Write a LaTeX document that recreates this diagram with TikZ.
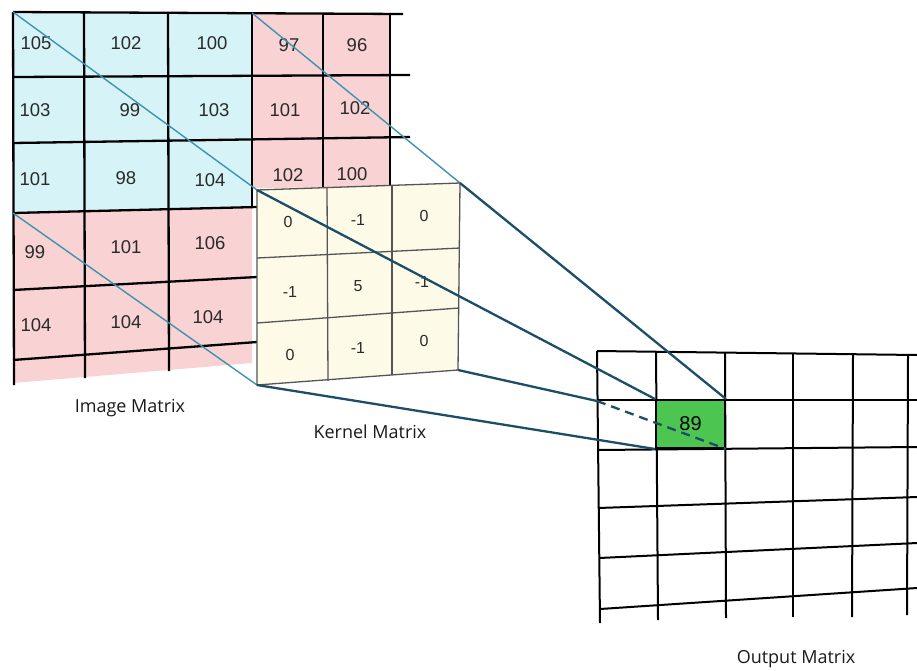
\documentclass[tikz,border=0pt]{standalone}
\usepackage{fontspec}
\setmainfont{Liberation Sans}
\newfontfamily\captionfont{Open Sans}
\usetikzlibrary{calc}
\definecolor{cellblue}{HTML}{D6F4F8}
\definecolor{cellpink}{HTML}{F9D2D4}
\definecolor{kernfill}{HTML}{FDFBE8}
\definecolor{hitgreen}{HTML}{4CC650}
\definecolor{tealdark}{HTML}{1D4E68}
\definecolor{teallight}{HTML}{3E93AE}
\definecolor{gridgray}{HTML}{555555}
\definecolor{numgray}{HTML}{2A2A2A}
\definecolor{ink}{HTML}{1A1A1A}
\tikzset{
  imgnum/.style   = {font=\fontsize{18.5}{20}\selectfont, text=numgray, inner sep=0pt},
  kernnum/.style  = {font=\fontsize{16}{18}\selectfont, text=numgray, inner sep=0pt},
  mlabel/.style   = {font=\captionfont\fontsize{18}{21}\selectfont, text=ink, inner sep=0pt},
  imggrid/.style  = {line width=2.3pt, draw=black},
  kerngrid/.style = {line width=1.3pt, draw=gridgray},
  outgrid/.style  = {line width=2pt, draw=black},
  hit/.style      = {rectangle, draw=black, line width=2pt, fill=hitgreen,
                     minimum width=69pt, minimum height=48pt, inner sep=0pt,
                     font=\fontsize{20}{22}\selectfont, text=black},
  raylight/.style = {line width=1.4pt, draw=teallight},
  raydark/.style  = {line width=2.3pt, draw=tealdark},
  raydash/.style  = {raydark, dash pattern=on 9pt off 6pt},
}

\begin{document}
\begin{tikzpicture}[x=1pt, y=-1pt]
\useasboundingbox (0,0) rectangle (917,670);

% ---- Image matrix: cell fills ----
\fill[cellblue] (13,12) -- (252,13) -- (252,208) -- (13,213) -- cycle;
\fill[cellpink] (252,13) -- (390,14) -- (390,187) -- (252,188) -- cycle;
\fill[cellpink] (13,213) -- (252,208) -- (252,363) -- (13,383) -- cycle;

% ---- Image matrix: grid ----
\draw[imggrid] (13,12) -- (403,14);
\draw[imggrid] (13,77) -- (410,75);
\draw[imggrid] (13,143) -- (410,137);
\draw[imggrid] (13,213) -- (257,207);
\draw[imggrid] (13,290) -- (257,277);
\draw[imggrid] (13,360) -- (257,342);
\draw[imggrid] (13,12) -- (14,385);
\draw[imggrid] (84,12) -- (85,378);
\draw[imggrid] (168,13) -- (169,371);
\draw[imggrid] (252,13) -- (252,208);
\draw[imggrid] (323,13) -- (323,188);
\draw[imggrid] (390,14) -- (390,188);

% ---- Image matrix: values ----
\node[imgnum] (i11) at (36,43)  {105};
\node[imgnum] (i12) at (126,43) {102};
\node[imgnum] (i13) at (212,43) {100};
\node[imgnum] (i14) at (289,45) {97};
\node[imgnum] (i15) at (357,45) {96};
\node[imgnum] (i21) at (35,110) {103};
\node[imgnum] (i22) at (130,110) {99};
\node[imgnum] (i23) at (214,110) {103};
\node[imgnum] (i24) at (285,110) {101};
\node[imgnum] (i25) at (355,108) {102};
\node[imgnum] (i31) at (35,179) {101};
\node[imgnum] (i32) at (126,178) {98};
\node[imgnum] (i33) at (210,180) {104};
\node[imgnum] (i34) at (288,175) {102};
\node[imgnum] (i35) at (352,174) {100};
\node[imgnum] (i41) at (35,252) {99};
\node[imgnum] (i42) at (126,247) {101};
\node[imgnum] (i43) at (210,243) {106};
\node[imgnum] (i51) at (36,325) {104};
\node[imgnum] (i52) at (126,322) {104};
\node[imgnum] (i53) at (208,317) {104};

% ---- Corners used by the projection rays ----
\coordinate (img-tl)  at (13,12);
\coordinate (img-mid) at (252,13);
\coordinate (img-low) at (13,213);
\coordinate (k-tl) at (257,190);
\coordinate (k-tr) at (460,183);
\coordinate (k-br) at (458,370);
\coordinate (k-bl) at (257,385);
\coordinate (o-edge) at (597,401);

% ---- Light rays from the image window to the kernel ----
\draw[raylight] (img-tl)  -- (k-tl);
\draw[raylight] (img-mid) -- (k-tr);
\draw[raylight] (img-low) -- (k-bl);

% ---- Kernel matrix ----
\filldraw[kernfill, kerngrid] (k-tl) -- (k-tr) -- (k-br) -- (k-bl) -- cycle;
\draw[kerngrid] (257,258) -- (460,248);
\draw[kerngrid] (257,323) -- (459,308);
\draw[kerngrid] (327,188) -- (328,381);
\draw[kerngrid] (392,186) -- (392,375);

\node[kernnum] (k11) at (288,222) {0};
\node[kernnum] (k12) at (358,220) {-1};
\node[kernnum] (k13) at (424,216) {0};
\node[kernnum] (k21) at (290,292) {-1};
\node[kernnum] (k22) at (358,286) {5};
\node[kernnum] (k23) at (422,282) {-1};
\node[kernnum] (k31) at (290,355) {0};
\node[kernnum] (k32) at (358,348) {-1};
\node[kernnum] (k33) at (424,341) {0};

% ---- Output matrix: grid ----
\draw[outgrid] (597,351) -- (917,355);
\draw[outgrid] (597,400) -- (917,400);
\draw[outgrid] (597,450) -- (917,447);
\draw[outgrid] (598,508) -- (917,497);
\draw[outgrid] (599,558) -- (917,543);
\draw[outgrid] (600,609) -- (917,588);
\draw[outgrid] (597,351) -- (600,623);
\draw[outgrid] (656,351) -- (658,620);
\draw[outgrid] (725,352) -- (726,618);
\draw[outgrid] (793,353) -- (793,617);
\draw[outgrid] (853,354) -- (852,617);
\draw[outgrid] (908,355) -- (907,615);

% ---- Result cell ----
\node[hit] (out) at (690.5,424) {89};

% ---- Dark rays from the kernel to the result ----
\draw[raydark] (k-tl) -- (out.north west);
\draw[raydark] (k-tr) -- (out.north east);
\draw[raydark] (k-bl) -- (out.south west);
\draw[raydark] (k-br) -- (o-edge);
\draw[raydash] (o-edge) -- (out.south east);

% ---- Captions ----
\node[mlabel] (imgcap) at (130,408) {Image Matrix};
\node[mlabel] (kerncap) at (370,432) {Kernel Matrix};
\node[mlabel] (outcap) at (796,659) {Output Matrix};

\end{tikzpicture}
\end{document}
